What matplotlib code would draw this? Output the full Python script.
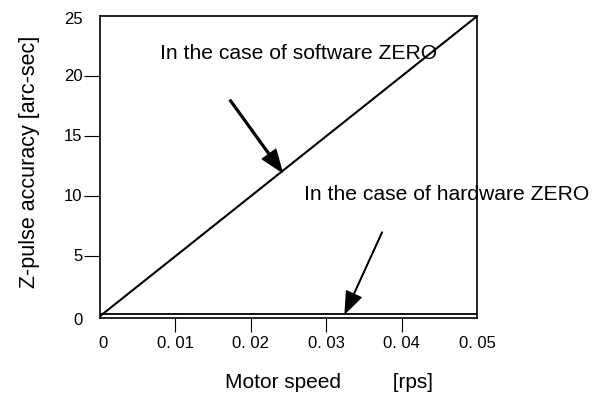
import matplotlib.pyplot as plt
import numpy as np

# rychlost motoru [rps] a presnost Z-pulzu [arc-sec]
speed = [0.0, 0.05]
software_zero = [0.0, 25.0]
hardware_zero = [0.15, 0.15]

xtick_values = [0.0, 0.01, 0.02, 0.03, 0.04, 0.05]
xtick_labels = ["0", "0. 01", "0. 02", "0. 03", "0. 04", "0. 05"]
ytick_values = [0, 5, 10, 15, 20, 25]

plt.rcParams["font.family"] = ["Liberation Sans", "DejaVu Sans"]

fig = plt.figure(figsize=(5.92, 3.93), dpi=100)
ax = fig.add_axes([0.169, 0.191, 0.637, 0.768])

ax.plot(speed, software_zero, color="black", linewidth=1.5)
ax.plot(speed, hardware_zero, color="black", linewidth=1.3)

ax.set_xlim(0, 0.05)
ax.set_ylim(-0.15, 25)

# osa x: carky jen uvnitr rozsahu, popisky vlastni
ax.set_xticks(xtick_values[1:-1])
ax.set_xticklabels([])
ax.tick_params(axis="x", direction="out", length=10, width=0.8)
for xv, lab in zip(xtick_values, xtick_labels):
    ax.text(xv + 0.0004 * (xv == 0), -2.25, lab, ha="center", va="center",
            fontsize=12)

# osa y
ax.set_yticks(ytick_values[1:-1])
ax.set_yticklabels([])
ax.tick_params(axis="y", direction="out", length=11.5, width=0.8)
for yv in ytick_values:
    dy = {0: -0.4, 25: -0.3}.get(yv, 0)
    ax.text(-0.0023, yv + dy, str(yv), ha="right", va="center", fontsize=12)

for s in ax.spines.values():
    s.set_linewidth(1.2)

ax.set_xlabel("Motor speed         [rps]", fontsize=15)
ax.xaxis.set_label_coords(0.607, -0.215)
ax.xaxis.label.set_va("center")
ax.set_ylabel("Z-pulse accuracy [arc-sec]", fontsize=15.5)
ax.yaxis.set_label_coords(-0.186, 0.518)
ax.yaxis.label.set_va("center")

# popisky se sipkami
ax.text(0.00796, 21.9, "In the case of software ZERO", fontsize=15.2,
        va="center", ha="left")
ax.annotate("", xy=(0.02414, 12.0), xytext=(0.01724, 18.0),
            arrowprops=dict(facecolor="black", edgecolor="black", shrink=0,
                            width=1.3, headwidth=12, headlength=16))

ax.text(0.02706, 10.1, "In the case of hardware ZERO", fontsize=15.2,
        va="center", ha="left", clip_on=False)
ax.annotate("", xy=(0.0325, 0.25), xytext=(0.0374, 7.0),
            arrowprops=dict(facecolor="black", edgecolor="black", shrink=0,
                            width=0.4, headwidth=11.5, headlength=15))

plt.savefig("out.png", dpi=100)
